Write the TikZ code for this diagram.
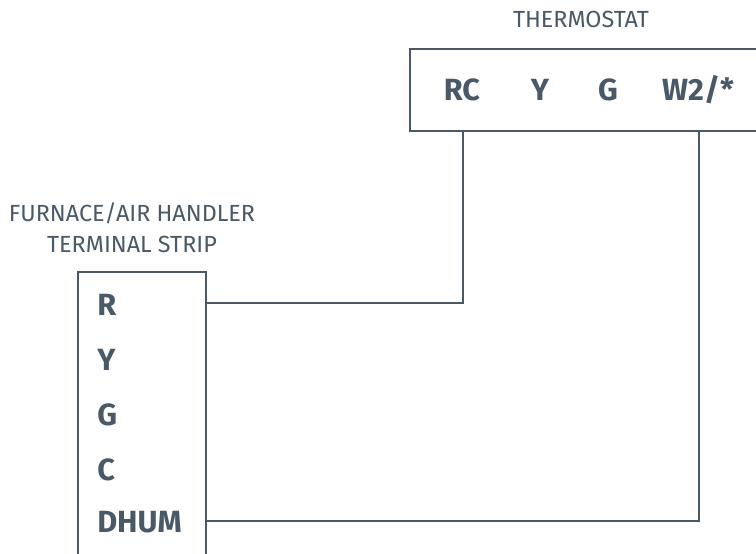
\documentclass[tikz,border=0pt]{standalone}
\usepackage{fontspec}
\setmainfont{Fira Sans}
\definecolor{ink}{HTML}{4A5967}
\begin{document}
\begin{tikzpicture}[x=0.75pt,y=-0.75pt,
  box/.style={draw=ink,line width=1.5pt,inner sep=0pt},
  wire/.style={draw=ink,line width=1.5pt},
  title/.style={text=ink,font=\fontsize{17.5}{20}\selectfont,anchor=base,inner sep=0pt},
  term/.style={text=ink,font=\fontsize{23}{26}\selectfont\bfseries,inner sep=0pt}]
\useasboundingbox (0,0) rectangle (756,553);
% boxes
\node[box,minimum width=270pt,minimum height=61.5pt,anchor=north west] (thermo) at (409,48) {};
\node[box,minimum width=96pt,minimum height=220pt,anchor=north west] (furnace) at (77,271) {};
% titles
\node[title] (tt) at (581,27) {THERMOSTAT};
\node[title] (ft1) at (132,221) {FURNACE/AIR HANDLER};
\node[title] (ft2) at (132,252) {TERMINAL STRIP};
% thermostat terminals
\node[term,anchor=base] (RC) at (462,100) {RC};
\node[term,anchor=base] (tY) at (540,100) {Y};
\node[term,anchor=base] (tG) at (608,100) {G};
\node[term,anchor=base] (W2) at (698,100) {W2/*};
% furnace terminals
\node[term,anchor=base west] (fR) at (97,315) {R};
\node[term,anchor=base west] (fY) at (97,370) {Y};
\node[term,anchor=base west] (fG) at (97,425) {G};
\node[term,anchor=base west] (fC) at (97,480) {C};
\node[term,anchor=base west] (fD) at (97,532) {DHUM};
% wire rows
\coordinate (rowR) at (0,303);
\coordinate (rowD) at (0,521);
\coordinate (colRC) at (463,0);
\coordinate (colW) at (699,0);
% wires
\draw[wire] (colRC |- thermo.south) -- (colRC |- rowR) -- (furnace.east |- rowR);
\draw[wire] (colW |- thermo.south) -- (colW |- rowD) -- (furnace.east |- rowD);
\end{tikzpicture}
\end{document}
